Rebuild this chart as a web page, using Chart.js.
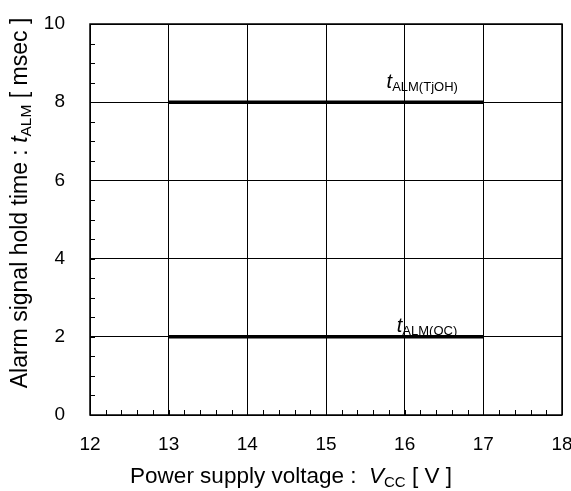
<!DOCTYPE html>
<html lang="en">
<head>
    <meta charset="UTF-8">
    <title>Alarm signal hold time</title>
    <script src="https://cdn.jsdelivr.net/npm/chart.js"></script>
    <style>
        body { margin: 0; background: white; }
        .wrap { width: 571px; height: 491px; }
    </style>
</head>
<body>
    <div class="wrap"><canvas id="holdChart" width="571" height="491"></canvas></div>
    <script>
        const vccValues = [13, 17];
        const tjohValues = [8, 8];
        const ocValues = [2, 2];
        const xTicks = [12, 13, 14, 15, 16, 17, 18];
        const yTicks = [0, 2, 4, 6, 8, 10];
        const seriesNames = ["ALM(TjOH)", "ALM(OC)"];

        const FONT = "Arial, 'Liberation Sans', sans-serif";

        // draws text pieces left to right: [text, font, dy]
        const drawPieces = (ctx, pieces, x, y) => {
            let cx = x;
            pieces.forEach(([txt, font, dy]) => {
                ctx.font = font;
                ctx.fillText(txt, cx, y + (dy || 0));
                cx += ctx.measureText(txt).width;
            });
        };
        const piecesWidth = (ctx, pieces) => {
            let w = 0;
            pieces.forEach(([txt, font]) => { ctx.font = font; w += ctx.measureText(txt).width; });
            return w;
        };

        const decor = {
            id: "decor",
            afterDraw(chart) {
                const { ctx, chartArea: a, scales: { x, y } } = chart;
                ctx.save();
                ctx.strokeStyle = "#000";
                ctx.lineWidth = 1;
                // minor ticks, inward
                ctx.beginPath();
                for (let v = 12.2; v < 18; v += 0.2) {
                    const px = Math.round(x.getPixelForValue(v)) + 0.5;
                    ctx.moveTo(px, a.bottom);
                    ctx.lineTo(px, a.bottom - 5);
                }
                for (let v = 0.5; v < 10; v += 0.5) {
                    const py = Math.round(y.getPixelForValue(v)) + 0.5;
                    ctx.moveTo(a.left, py);
                    ctx.lineTo(a.left + 5, py);
                }
                ctx.stroke();
                // frame
                ctx.lineWidth = 1.5;
                ctx.strokeRect(a.left, a.top, a.right - a.left, a.bottom - a.top);

                // series labels
                ctx.fillStyle = "#000";
                ctx.textBaseline = "alphabetic";
                ctx.textAlign = "left";
                const big = "italic 20px " + FONT;
                const sub = "13px " + FONT;
                drawPieces(ctx, [["t", big], [seriesNames[0], sub, 3]],
                    x.getPixelForValue(15.77), y.getPixelForValue(tjohValues[0] + 0.36));
                drawPieces(ctx, [["t", big], [seriesNames[1], sub, 3]],
                    x.getPixelForValue(15.9), y.getPixelForValue(ocValues[0] + 0.13));

                // x axis title
                const xt = [["Power supply voltage :  ", "22.5px " + FONT], ["V", "italic 22.5px " + FONT],
                    ["CC", "15px " + FONT, 4], [" [ V ]", "22.5px " + FONT]];
                drawPieces(ctx, xt, 291 - piecesWidth(ctx, xt) / 2, 483);

                // y axis title
                const yt = [["Alarm signal hold time : ", "23px " + FONT], ["t", "italic 23px " + FONT],
                    ["ALM", "15.5px " + FONT, 4], [" [ msec ]", "23px " + FONT]];
                ctx.translate(27, 203);
                ctx.rotate(-Math.PI / 2);
                drawPieces(ctx, yt, -piecesWidth(ctx, yt) / 2, 0);
                ctx.restore();
            }
        };

        new Chart(document.getElementById("holdChart"), {
            type: "scatter",
            data: {
                datasets: [
                    { data: vccValues.map((v, i) => ({ x: v, y: tjohValues[i] })) },
                    { data: vccValues.map((v, i) => ({ x: v, y: ocValues[i] })) }
                ].map(d => Object.assign(d, {
                    showLine: true, borderColor: "#000", borderWidth: 3.5,
                    pointRadius: 0, backgroundColor: "#000"
                }))
            },
            options: {
                responsive: false,
                animation: false,
                layout: { padding: { top: 24, right: 9, left: 0, bottom: 0 } },
                plugins: { legend: { display: false }, tooltip: { enabled: false } },
                scales: {
                    x: {
                        type: "linear", min: 12, max: 18,
                        afterBuildTicks: s => { s.ticks = xTicks.map(v => ({ value: v })); },
                        afterFit: s => { s.height = 76; s.paddingLeft = 0; s.paddingRight = 0; },
                        grid: { color: "#000", lineWidth: 1, drawTicks: false },
                        border: { display: false },
                        ticks: { color: "#000", padding: 18, maxRotation: 0, font: { family: FONT, size: 19 } }
                    },
                    y: {
                        min: 0, max: 10,
                        afterBuildTicks: s => { s.ticks = yTicks.map(v => ({ value: v })); },
                        afterFit: s => { s.width = 90; s.paddingTop = 0; s.paddingBottom = 0; },
                        grid: { color: "#000", lineWidth: 1, drawTicks: false },
                        border: { display: false },
                        ticks: { color: "#000", padding: 25, font: { family: FONT, size: 19 } }
                    }
                }
            },
            plugins: [decor]
        });
    </script>
</body>
</html>
